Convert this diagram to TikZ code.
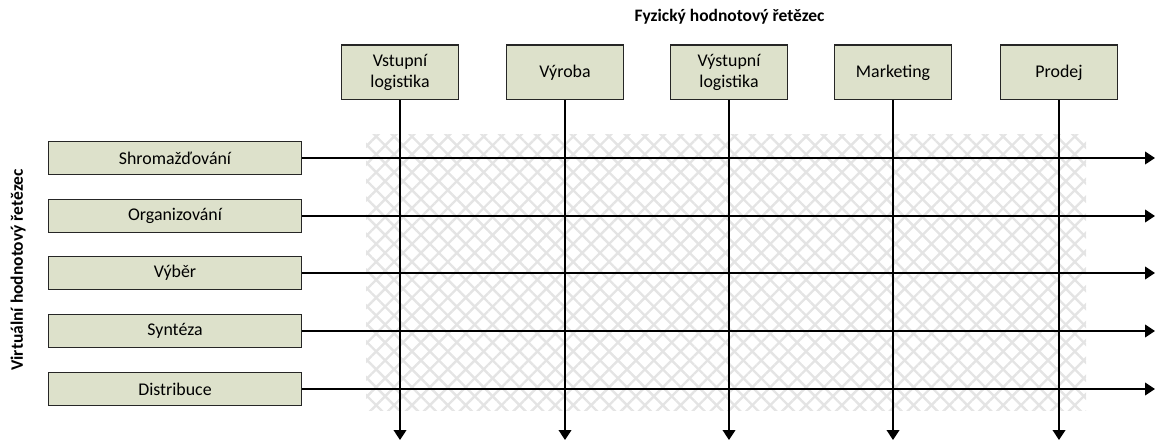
\documentclass[tikz,border=0pt]{standalone}
\usepackage{fontspec}
\setmainfont{Carlito}
\usetikzlibrary{arrows.meta,patterns.meta}
\definecolor{boxfill}{RGB}{221,225,203}
\definecolor{hatch}{RGB}{228,228,228}
\begin{document}
\begin{tikzpicture}[x=0.75pt,y=-0.75pt,
	stage/.style={draw=black!85,line width=1pt,fill=boxfill,minimum width=87.5pt,minimum height=41pt,
		align=center,inner sep=0pt,font=\fontsize{13.4}{16}\selectfont},
	activity/.style={draw=black!85,line width=1pt,fill=boxfill,minimum width=190pt,minimum height=24.5pt,
		inner sep=0pt,font=\fontsize{13.4}{16}\selectfont},
	flow/.style={line width=1.3pt,-{Triangle[width=9.5pt,length=7.5pt]}},
	heading/.style={font=\bfseries\fontsize{13.1}{15}\selectfont}]
		\useasboundingbox (0,0) rectangle (1155,441);
		% hatched background
		\fill[pattern={Lines[angle=45,distance=9.5pt,line width=1.8pt]},pattern color=hatch] (366,135) rectangle (1086,410);
		\fill[pattern={Lines[angle=-45,distance=9.5pt,line width=1.8pt]},pattern color=hatch] (366,135) rectangle (1086,410);
		% headings
		\node[heading] (fyz) at (729.5,17) {Fyzický hodnotový řetězec};
		\node[heading,rotate=90] (virt) at (18,270) {Virtuální hodnotový řetězec};
		% physical chain
		\node[stage] (vstup) at (400,72.5) {Vstupní\\logistika};
		\node[stage] (vyroba) at (565,72.5) {Výroba};
		\node[stage] (vystup) at (729,72.5) {Výstupní\\logistika};
		\node[stage] (mkt) at (893,72.5) {Marketing};
		\node[stage] (prodej) at (1059,72.5) {Prodej};
		% virtual chain
		\node[activity] (shrom) at (175,158) {Shromažďování};
		\node[activity] (organ) at (175,216) {Organizování};
		\node[activity] (vyber) at (175,273) {Výběr};
		\node[activity] (synt) at (175,331) {Syntéza};
		\node[activity] (distr) at (175,389) {Distribuce};
		% ends
		\coordinate (e1) at (1155,158);
		\coordinate (e2) at (1155,216);
		\coordinate (e3) at (1155,273);
		\coordinate (e4) at (1155,331);
		\coordinate (e5) at (1155,389);
		\coordinate (d1) at (400,440);
		\coordinate (d2) at (565,440);
		\coordinate (d3) at (729,440);
		\coordinate (d4) at (893,440);
		\coordinate (d5) at (1059,440);
		\draw[flow] (vstup) -- (d1);
		\draw[flow] (vyroba) -- (d2);
		\draw[flow] (vystup) -- (d3);
		\draw[flow] (mkt) -- (d4);
		\draw[flow] (prodej) -- (d5);
		\draw[flow] (shrom) -- (e1);
		\draw[flow] (organ) -- (e2);
		\draw[flow] (vyber) -- (e3);
		\draw[flow] (synt) -- (e4);
		\draw[flow] (distr) -- (e5);
	\end{tikzpicture}
\end{document}
